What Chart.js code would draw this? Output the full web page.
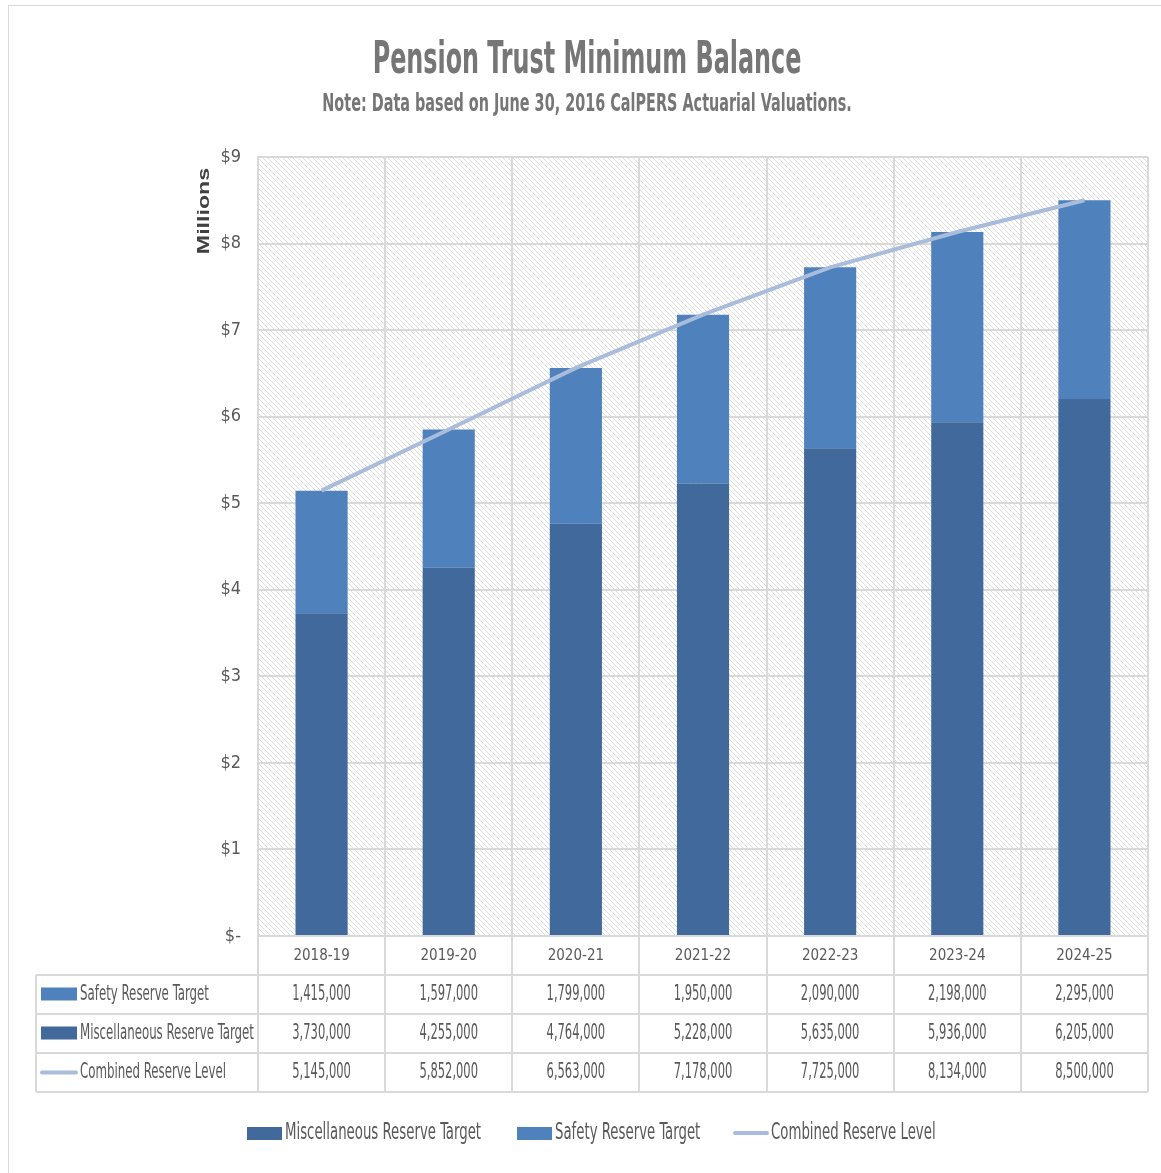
<!DOCTYPE html>
<html lang="en">
  <head>
    <meta charset="utf-8" />
    <title>Pension Trust Minimum Balance</title>
    <style>
      html, body { margin: 0; padding: 0; background: #fff; }
      #wrap { width: 1161px; height: 1173px; }
    </style>
  </head>
  <body>
    <div id="wrap"><canvas id="chart"></canvas></div>
    <script src="https://cdn.jsdelivr.net/npm/chart.js@4/dist/chart.umd.min.js"></script>
    <script>
      const years = ['2018-19', '2019-20', '2020-21', '2021-22', '2022-23', '2023-24', '2024-25'];
      const safety = [1415000, 1597000, 1799000, 1950000, 2090000, 2198000, 2295000];
      const misc = [3730000, 4255000, 4764000, 5228000, 5635000, 5936000, 6205000];
      const combined = [5145000, 5852000, 6563000, 7178000, 7725000, 8134000, 8500000];

      const NARROW = '"DejaVu Sans Condensed", "Liberation Sans Narrow", sans-serif';
      const MISC_COLOR = '#41699c';
      const SAFETY_COLOR = '#4f81bd';
      const LINE_COLOR = '#a9bcdb';
      const GRID = '#d9d9d9';
      const TEXT = '#595959';

      const fmt = v => v.toLocaleString('en-US');

      // condensed + stretched text, like the squeezed original
      function txt(ctx, s, x, y, font, color, align, sx, sy) {
        ctx.save();
        ctx.font = font;
        ctx.fillStyle = color;
        ctx.textAlign = align;
        ctx.textBaseline = 'middle';
        ctx.translate(x, y);
        ctx.scale(sx, sy);
        ctx.fillText(s, 0, 0);
        ctx.restore();
      }

      // hatch fill for the plot area
      const tile = document.createElement('canvas');
      tile.width = 5; tile.height = 5;
      const t = tile.getContext('2d');
      t.fillStyle = '#fff';
      t.fillRect(0, 0, 5, 5);
      t.strokeStyle = '#dedede';
      t.lineWidth = 1;
      for (let k = -5; k <= 5; k += 5) {
        t.beginPath();
        t.moveTo(k, 0);
        t.lineTo(k + 5, 5);
        t.stroke();
      }

      const extras = {
        id: 'extras',
        beforeDraw(chart) {
          const { ctx, chartArea: a } = chart;
          ctx.save();
          ctx.fillStyle = ctx.createPattern(tile, 'repeat');
          ctx.fillRect(a.left, a.top, a.right - a.left, a.bottom - a.top);
          ctx.restore();
        },
        afterDraw(chart) {
          const { ctx, chartArea: a } = chart;
          const x = chart.scales.x;

          // outer border
          ctx.save();
          ctx.strokeStyle = GRID;
          ctx.lineWidth = 1;
          ctx.strokeRect(8.5, 5.5, 1160, 1175);
          ctx.restore();

          // titles
          txt(ctx, 'Pension Trust Minimum Balance', 587, 62, 'bold 34px ' + NARROW, '#767676', 'center', 0.78, 1.3);
          txt(ctx, 'Note: Data based on June 30, 2016 CalPERS Actuarial Valuations.', 587, 105, 'bold 18px ' + NARROW, '#767676', 'center', 0.89, 1.35);

          // y axis title
          ctx.save();
          ctx.font = 'bold 16px Arial, "Liberation Sans", sans-serif';
          ctx.fillStyle = '#404040';
          ctx.textAlign = 'center';
          ctx.textBaseline = 'middle';
          ctx.translate(205, 211);
          ctx.rotate(-Math.PI / 2);
          ctx.scale(1.45, 1);
          ctx.fillText('Millions', 0, 0);
          ctx.restore();

          // data table
          const rowTops = [975, 1014, 1053, 1092];
          const tableLeft = 36;
          ctx.save();
          ctx.strokeStyle = GRID;
          ctx.lineWidth = 2;
          ctx.beginPath();
          rowTops.forEach(y => { ctx.moveTo(tableLeft, y); ctx.lineTo(a.right, y); });
          ctx.moveTo(tableLeft, rowTops[0]); ctx.lineTo(tableLeft, rowTops[3]);
          const step = x.getPixelForValue(1) - x.getPixelForValue(0);
          for (let i = 0; i <= years.length; i++) {
            const px = Math.round(x.getPixelForValue(i) - step / 2);
            ctx.moveTo(px, a.bottom); ctx.lineTo(px, rowTops[3]);
          }
          ctx.stroke();
          ctx.restore();

          const rows = [
            { label: 'Safety Reserve Target', data: safety, color: SAFETY_COLOR, line: false },
            { label: 'Miscellaneous Reserve Target', data: misc, color: MISC_COLOR, line: false },
            { label: 'Combined Reserve Level', data: combined, color: LINE_COLOR, line: true }
          ];
          rows.forEach((r, j) => {
            const cy = (rowTops[j] + rowTops[j + 1]) / 2;
            ctx.save();
            if (r.line) {
              ctx.strokeStyle = r.color; ctx.lineWidth = 4; ctx.lineCap = 'round';
              ctx.beginPath(); ctx.moveTo(42, cy); ctx.lineTo(76, cy); ctx.stroke();
            } else {
              ctx.fillStyle = r.color;
              ctx.fillRect(41, cy - 7, 36, 13);
            }
            ctx.restore();
            txt(ctx, r.label, 80, cy, '16px ' + NARROW, TEXT, 'left', 0.82, 1.3);
            r.data.forEach((v, i) => {
              txt(ctx, fmt(v), x.getPixelForValue(i), cy, '16px ' + NARROW, TEXT, 'center', 0.8, 1.3);
            });
          });

          // legend
          const ly = 1133;
          const items = [
            { label: 'Miscellaneous Reserve Target', color: MISC_COLOR, x: 247, line: false },
            { label: 'Safety Reserve Target', color: SAFETY_COLOR, x: 517, line: false },
            { label: 'Combined Reserve Level', color: LINE_COLOR, x: 733, line: true }
          ];
          items.forEach(it => {
            ctx.save();
            if (it.line) {
              ctx.strokeStyle = it.color; ctx.lineWidth = 4; ctx.lineCap = 'round';
              ctx.beginPath(); ctx.moveTo(it.x + 2, ly); ctx.lineTo(it.x + 34, ly); ctx.stroke();
            } else {
              ctx.fillStyle = it.color;
              ctx.fillRect(it.x, ly - 6, 35, 13);
            }
            ctx.restore();
            txt(ctx, it.label, it.x + 38, ly, '17px ' + NARROW, TEXT, 'left', 0.87, 1.3);
          });
        }
      };

      new Chart(document.getElementById('chart'), {
        data: {
          labels: years,
          datasets: [{
            type: 'line',
            label: 'Combined Reserve Level',
            data: combined,
            borderColor: LINE_COLOR,
            borderWidth: 4,
            pointRadius: 0,
            tension: 0,
            stack: 'line',
            order: 0
          }, {
            type: 'bar',
            label: 'Miscellaneous Reserve Target',
            data: misc,
            backgroundColor: MISC_COLOR,
            categoryPercentage: 1,
            barPercentage: 0.41,
            stack: 'bars',
            order: 1
          }, {
            type: 'bar',
            label: 'Safety Reserve Target',
            data: safety,
            backgroundColor: SAFETY_COLOR,
            categoryPercentage: 1,
            barPercentage: 0.41,
            stack: 'bars',
            order: 1
          }]
        },
        options: {
          responsive: true,
          maintainAspectRatio: false,
          animation: false,
          layout: {
            padding: { left: 195, right: 13, top: 157, bottom: 0 }
          },
          plugins: {
            legend: { display: false },
            tooltip: { enabled: false }
          },
          scales: {
            x: {
              stacked: true,
              offset: true,
              afterFit(scale) { scale.height = 237; },
              grid: { offset: true, color: GRID, lineWidth: 2, drawTicks: false },
              border: { color: GRID, width: 2 },
              ticks: { color: TEXT, font: { family: NARROW, size: 15 }, padding: 11 }
            },
            y: {
              stacked: true,
              min: 0,
              max: 9000000,
              afterFit(scale) { scale.width = 63; },
              grid: { color: GRID, lineWidth: 2, drawTicks: false },
              border: { color: GRID, width: 2 },
              ticks: {
                stepSize: 1000000,
                color: TEXT,
                padding: 17,
                font: { family: NARROW, size: 18 },
                callback: v => v === 0 ? '$-' : '$' + (v / 1000000)
              }
            }
          }
        },
        plugins: [extras]
      });
    </script>
  </body>
</html>
